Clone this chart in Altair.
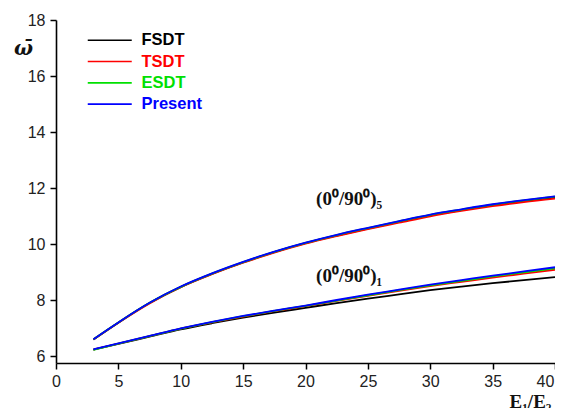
import altair as alt
import pandas as pd

# ---- data ----
x_vals = [3, 5, 7.5, 10, 12.5, 15, 17.5, 20, 22.5, 25, 27.5, 30, 32.5, 35, 37.5, 40]
methods = ["FSDT", "TSDT", "ESDT", "Present"]
colors = ["#000000", "#ff0000", "#00e000", "#0000ff"]

# (0/90)_5 laminate
up_fsdt    = [6.59, 7.19, 7.89, 8.46, 8.93, 9.34, 9.71, 10.03, 10.30, 10.55, 10.79, 11.02, 11.21, 11.39, 11.54, 11.66]
up_tsdt    = [6.59, 7.19, 7.88, 8.46, 8.92, 9.33, 9.69, 10.01, 10.28, 10.53, 10.76, 10.99, 11.18, 11.35, 11.50, 11.62]
up_esdt    = [6.60, 7.20, 7.90, 8.47, 8.94, 9.35, 9.72, 10.04, 10.32, 10.57, 10.81, 11.04, 11.23, 11.41, 11.56, 11.69]
up_present = [6.60, 7.20, 7.90, 8.48, 8.95, 9.36, 9.73, 10.05, 10.33, 10.58, 10.82, 11.05, 11.24, 11.42, 11.57, 11.70]

# (0/90)_1 laminate
lo_fsdt    = [6.23, 6.43, 6.69, 6.95, 7.17, 7.37, 7.55, 7.72, 7.89, 8.05, 8.20, 8.35, 8.48, 8.60, 8.71, 8.82]
lo_tsdt    = [6.23, 6.44, 6.71, 6.98, 7.20, 7.41, 7.60, 7.78, 7.97, 8.15, 8.33, 8.50, 8.65, 8.80, 8.94, 9.08]
lo_esdt    = [6.22, 6.44, 6.71, 6.98, 7.21, 7.42, 7.61, 7.79, 7.98, 8.17, 8.35, 8.52, 8.68, 8.84, 8.99, 9.13]
lo_present = [6.24, 6.45, 6.72, 6.99, 7.22, 7.43, 7.62, 7.80, 8.00, 8.19, 8.37, 8.55, 8.71, 8.87, 9.02, 9.17]

ann_text = ["(0\u2070/90\u2070)\u2085", "(0\u2070/90\u2070)\u2081"]
ann_x = [23.5, 23.5]
ann_y = [11.6, 8.86]

y_ticks = list(range(6, 19))
x_ticks = [i * 2.5 for i in range(17)]

rows = []
series = {
    "FSDT": (up_fsdt, lo_fsdt),
    "TSDT": (up_tsdt, lo_tsdt),
    "ESDT": (up_esdt, lo_esdt),
    "Present": (up_present, lo_present),
}
for m in methods:
    up, lo = series[m]
    for x, v in zip(x_vals, up):
        rows.append({"x": x, "w": v, "method": m, "lam": "5"})
    for x, v in zip(x_vals, lo):
        rows.append({"x": x, "w": v, "method": m, "lam": "1"})
df = pd.DataFrame(rows)
ann = pd.DataFrame({"x": ann_x, "w": ann_y, "t": ann_text})

color_expr = ("datum.value == 'FSDT' ? '#000000' : datum.value == 'TSDT' ? '#ff0000' : "
              "datum.value == 'ESDT' ? '#00e000' : '#0000ff'")

xscale = alt.Scale(domain=[0, 40], nice=False, zero=False)
yscale = alt.Scale(domain=[5.75, 18], nice=False, zero=False)

xaxis = alt.Axis(
    values=x_ticks, grid=False, labelFlush=False,
    labelExpr="datum.value % 5 == 0 ? datum.label : ''",
    labelOffset={"condition": {"test": "datum.value == 40", "value": -10}, "value": 0},
    tickSize={"condition": {"test": "datum.value % 5 == 0", "value": 6}, "value": 4},
    title="E\u2081/E\u2082", titleX=453, titleY=44, titleAlign="left", titleBaseline="alphabetic",
    titleFont="Liberation Serif", titleFontWeight="bold", titleFontSize=19, titleColor="#111",
)
yaxis = alt.Axis(
    values=y_ticks, grid=False, labelPadding=5,
    labelExpr="datum.value % 2 == 0 ? datum.label : ''",
    tickSize={"condition": {"test": "datum.value % 2 == 0", "value": 6}, "value": 4},
    title="\u03c9\u0304", titleAngle=0, titleX=-33, titleY=28, titleAlign="center",
    titleBaseline="middle", titleFont="DejaVu Serif", titleFontStyle="italic",
    titleFontWeight="bold", titleFontSize=20, titleColor="#111",
)

lines = alt.Chart(df).mark_line(strokeWidth=1.8, interpolate="monotone").encode(
    x=alt.X("x:Q", scale=xscale, axis=xaxis),
    y=alt.Y("w:Q", scale=yscale, axis=yaxis),
    color=alt.Color(
        "method:N",
        scale=alt.Scale(domain=methods, range=colors),
        legend=alt.Legend(
            title=None, orient="none", legendX=29, legendY=12,
            symbolType="M-1,0H7", symbolSize=121, symbolStrokeWidth=1.6,
            labelOffset=40, rowPadding=4.3,
            labelFont="Liberation Sans", labelFontWeight="bold", labelFontSize=16.5,
            labelColor=alt.ExprRef(color_expr),
        ),
    ),
    detail="lam:N",
)

labels = alt.Chart(ann).mark_text(
    font="Liberation Serif", fontWeight="bold", fontSize=19, color="#111"
).encode(x=alt.X("x:Q", scale=xscale), y=alt.Y("w:Q", scale=yscale), text="t:N")

chart = alt.layer(lines, labels).properties(
    width=499, height=343,
    autosize=alt.AutoSizeParams(type="none"),
    padding={"left": 48, "top": 12, "right": 0, "bottom": 45},
).configure_view(stroke=None).configure_axis(
    domainColor="#000", domainWidth=1.6, tickColor="#000", tickWidth=1.5,
    labelFont="Liberation Sans", labelFontSize=16, labelColor="#222", labelPadding=4,
)

chart.save("out.html", embed_options={"renderer": "svg", "actions": False})
